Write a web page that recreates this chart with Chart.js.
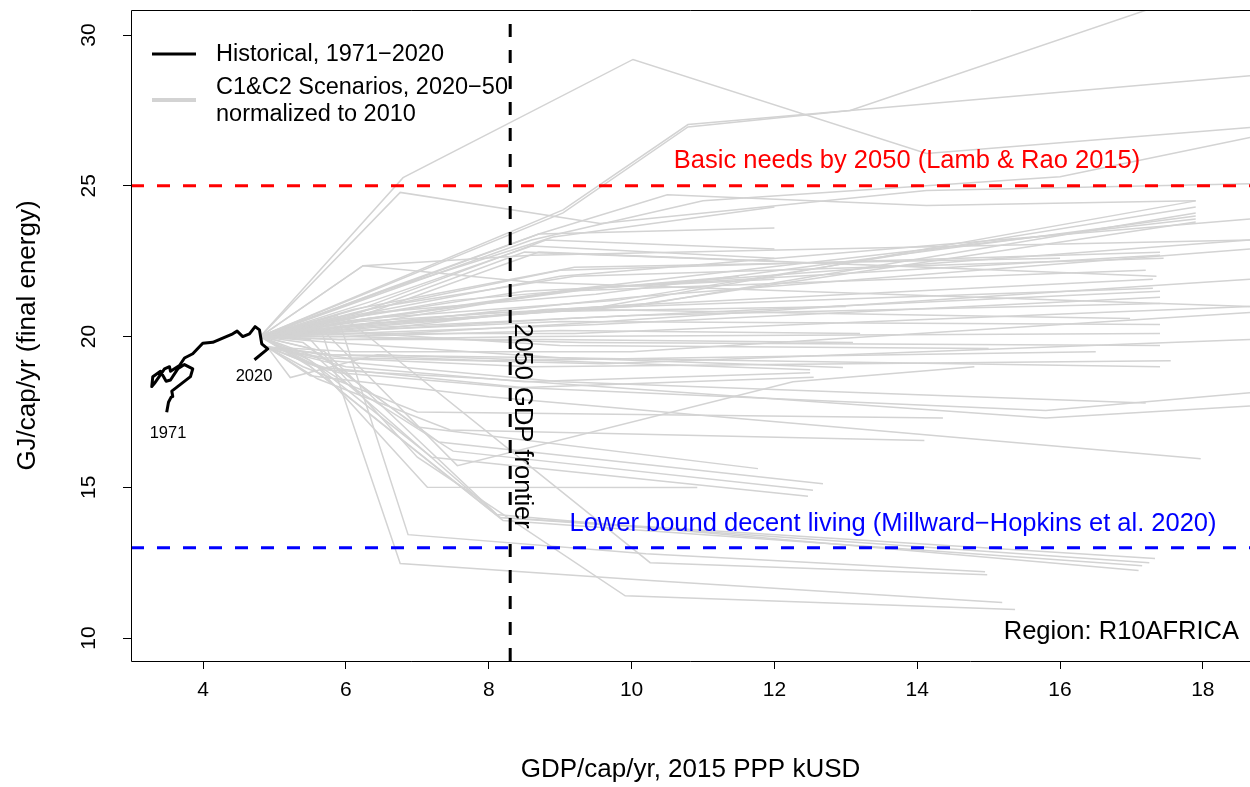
<!DOCTYPE html>
<html>
<head>
<meta charset="utf-8">
<script src="https://cdn.jsdelivr.net/npm/chart.js@4.4.1/dist/chart.umd.min.js"></script>
<style>
html,body{margin:0;padding:0;background:#fff;}
#wrap{width:1250px;height:787px;}
</style>
</head>
<body>
<div id="wrap"><canvas id="c" width="1250" height="787"></canvas></div>
<script>
// ---------------- DATA ----------------
const xTicks = [4, 6, 8, 10, 12, 14, 16, 18];
const yTicks = [10, 15, 20, 25, 30];
const xLimits = [2.99, 18.66];
const yLimits = [9.24, 30.83];

const basicNeeds = 25;      // GJ/cap/yr
const decentLiving = 13;    // GJ/cap/yr
const gdpFrontier = 8.3;    // kUSD

// Historical 1971-2020
const histGDP = [3.49,3.515,3.552,3.575,3.561,3.692,3.823,3.855,3.739,3.645,3.543,3.482,3.403,3.295,3.281,3.319,3.459,3.529,3.543,3.669,3.739,3.855,3.995,4.135,4.415,4.476,4.555,4.649,4.728,4.789,4.821,4.905,4.719];
const histEnergy = [17.49,17.82,17.99,18.01,18.19,18.43,18.67,18.93,19.07,18.93,18.56,18.52,18.85,18.67,18.34,18.45,18.93,19.00,18.85,19.04,19.29,19.43,19.78,19.81,20.09,20.18,20.00,20.09,20.33,20.22,19.76,19.59,19.23];

// Scenarios 2020-2050 (normalized to 2010)
const scenarioGDP = [
 [4.8,6.8,10.02,14.13,18.66],
 [4.8,6.76,9.56,14.13,18.66],
 [4.8,9.04,10.79,13.06,17.3],
 [4.8,9.04,10.79,13.06,18.66],
 [4.8,8.6,11.0,16.0,18.66],
 [4.8,8.7,10.5,14.13,17.9],
 [4.8,6.5,8.9,12.0],
 [4.8,6.6,8.7,12.0],
 [4.8,6.3,8.8,12.0],
 [4.8,6.4,8.6,12.0],
 [4.8,6.2,8.5,12.0],
 [4.8,6.0,9.0,13.2],
 [4.8,5.9,8.8,13.1],
 [4.8,5.8,9.0,12.96],
 [4.9,6.0,8.5,12.5],
 [4.9,5.9,8.4,12.55],
 [4.8,6.2,9.6,17.9],
 [4.8,6.3,9.8,17.9],
 [4.8,6.1,10.0,17.9],
 [4.8,6.4,9.5,17.9],
 [4.8,6.2,10.2,17.9],
 [4.8,6.0,9.3,17.9],
 [4.8,6.3,9.0,17.4],
 [4.8,6.5,9.2,17.45],
 [4.8,6.4,9.4,17.4],
 [4.8,6.2,9.0,17.2],
 [4.8,6.0,9.6,17.3],
 [4.8,6.3,8.8,17.3],
 [4.8,6.1,8.7,17.35],
 [4.8,6.2,9.1,17.4],
 [4.8,6.0,9.5,17.4],
 [4.8,6.4,10.0,17.4],
 [4.8,6.24,8.6,18.66],
 [4.8,6.24,8.6,18.66],
 [4.8,6.1,9.0,18.66],
 [4.8,6.0,9.5,18.66],
 [4.8,6.3,10.0,18.66],
 [4.8,6.0,9.0,18.66],
 [4.8,5.9,9.2,18.66],
 [4.9,6.1,10.0,18.66],
 [4.9,6.0,9.6,18.66],
 [4.9,5.6,8.5,15.8,18.66],
 [4.9,5.7,8.0,15.8,18.66],
 [4.9,5.5,8.0,17.97],
 [4.9,5.8,9.0,17.2],
 [4.8,5.4,7.0,11.77],
 [4.8,5.5,7.3,12.68],
 [4.8,5.3,7.5,12.54],
 [4.8,5.5,7.2,12.47],
 [4.8,5.6,7.14,10.92],
 [4.8,5.7,8.16,17.33],
 [4.8,5.6,8.16,17.25],
 [4.8,5.5,8.2,17.15],
 [4.8,5.4,8.1,17.1],
 [4.8,6.0,10.26,14.98],
 [4.8,5.88,6.87,10.2,14.95],
 [4.8,5.64,6.76,10.26,15.19],
 [4.8,5.5,7.0,9.91,15.37],
 [4.8,5.8,8.0,13.0],
 [4.8,6.0,8.5,12.0],
 [4.8,6.3,9.0,15.0],
 [4.8,5.5,7.5,11.5],
 [4.9,5.8,8.0,16.5],
 [4.8,6.1,9.2,16.0],
 [4.9,5.22,6.44,12.5],
 [4.8,5.64,7.56,12.26,14.8],
 [4.9,5.6,7.46,14.1],
 [4.9,5.4,7.0,14.36],
 [4.8,6.1,9.0,17.4],
 [4.8,5.9,8.7,17.4],
 [4.8,6.0,9.3,17.4],
 [4.9,5.8,8.9,17.4],
 [4.9,5.7,8.6,17.55],
 [4.8,6.2,9.4,16.98]
];
const scenarioEnergy = [
 [20,25.27,29.19,26.07,26.93],
 [20,24.78,23.75,24.84,25.07],
 [20,24.2,27.03,27.5,30.9],
 [20,24.1,26.95,27.5,28.65],
 [20,23.2,24.5,25.3,26.6],
 [20,23.4,24.7,24.35,24.5],
 [20,21.5,23.3,24.3],
 [20,21.6,23.4,23.6],
 [20,21.0,23.2,22.9],
 [20,21.2,23.0,22.6],
 [20,20.8,22.8,22.5],
 [20,20.0,20.2,20.1],
 [20,19.9,19.9,19.8],
 [20,19.8,19.3,18.97],
 [19.65,19.0,18.5,18.8],
 [19.65,18.8,18.3,18.65],
 [20,20.5,21.0,24.5],
 [20,20.6,21.2,24.3],
 [20,20.4,21.0,24.1],
 [20,20.8,21.4,24.0],
 [20,20.3,21.1,23.8],
 [20,20.5,21.6,23.9],
 [20,20.9,22.2,22.8],
 [20,21.0,22.0,22.6],
 [20,20.6,21.6,22.7],
 [20,20.4,21.5,22.2],
 [20,20.3,21.0,21.9],
 [20,20.2,20.9,21.6],
 [20,20.6,22.8,22.0],
 [20,20.2,20.6,21.5],
 [20,20.1,20.4,21.3],
 [20,20.3,20.7,21.1],
 [20,22.35,22.7,23.2],
 [20,22.35,21.8,21.0],
 [20,20.7,22.0,23.9],
 [20,20.5,21.6,23.2],
 [20,20.4,21.3,22.9],
 [20,20.0,20.4,21.9],
 [20,20.1,20.1,21.0],
 [19.65,19.5,19.5,20.8],
 [19.65,19.3,19.1,19.9],
 [19.65,19.0,18.3,17.55,18.14],
 [19.65,18.9,18.6,17.3,17.7],
 [19.65,18.7,18.0,15.95],
 [19.65,19.2,18.5,17.8],
 [20,19.8,17.0,15.62],
 [20,19.6,16.5,15.12],
 [20,19.5,16.2,14.9],
 [20,19.2,16.0,14.7],
 [20,19.0,15.0,14.99],
 [20,19.5,14.0,12.64],
 [20,19.3,14.0,12.5],
 [20,19.0,13.9,12.4],
 [20,19.2,14.1,12.24],
 [20,20.6,12.5,12.1],
 [20,20.7,13.43,12.8,12.2],
 [20,20.3,12.47,11.91,11.18],
 [20,19.9,16.0,11.4,10.95],
 [20,20.3,20.8,21.0],
 [20,20.6,21.5,21.9],
 [20,20.1,19.7,19.6],
 [20,20.4,21.2,22.0],
 [19.65,19.4,19.2,19.5],
 [20,20.9,22.3,22.6],
 [19.65,18.64,19.4,18.9],
 [20,20.3,15.72,18.5,19.0],
 [19.65,18.6,16.9,16.55],
 [19.65,19.0,17.5,17.3],
 [20,20.2,20.5,20.4],
 [20,19.9,20.0,20.1],
 [20,20.0,19.8,19.7],
 [19.65,19.4,19.3,19.0],
 [19.65,19.3,19.0,19.2],
 [20,20.4,20.9,20.6]
];

// ---------------- CHART ----------------
const FONT = '"Liberation Sans", Arial, Helvetica, sans-serif';
const GRAY = '#d3d3d3';

const toPts = (xs, ys) => xs.map((x, i) => ({x: x, y: ys[i]}));

const datasets = [];
datasets.push({
  label: 'Historical, 1971\u22122020',
  data: toPts(histGDP, histEnergy),
  borderColor: '#000', borderWidth: 3, pointRadius: 0, showLine: true,
  borderJoinStyle: 'round', borderCapStyle: 'butt', order: 1
});
datasets.push({
  data: [{x: xLimits[0], y: basicNeeds}, {x: xLimits[1], y: basicNeeds}],
  borderColor: '#ff0000', borderWidth: 3, borderDash: [13, 13], pointRadius: 0, showLine: true, order: 2
});
datasets.push({
  data: [{x: xLimits[0], y: decentLiving}, {x: xLimits[1], y: decentLiving}],
  borderColor: '#0000ff', borderWidth: 3, borderDash: [13, 13], pointRadius: 0, showLine: true, order: 2
});
datasets.push({
  data: [{x: gdpFrontier, y: yLimits[0]}, {x: gdpFrontier, y: yLimits[1]}],
  borderColor: '#000', borderWidth: 3, borderDash: [13, 13], pointRadius: 0, showLine: true, order: 2
});
scenarioGDP.forEach((xs, i) => {
  datasets.push({
    data: toPts(xs, scenarioEnergy[i]),
    borderColor: GRAY, borderWidth: 1.5, pointRadius: 0, showLine: true, order: 3
  });
});

const decor = {
  id: 'decor',
  afterDraw(chart) {
    const ctx = chart.ctx;
    const a = chart.chartArea;
    const xs = chart.scales.x, ys = chart.scales.y;
    ctx.save();
    // box (left, top, bottom; right side runs off the picture)
    ctx.strokeStyle = '#000'; ctx.lineWidth = 1;
    ctx.beginPath();
    ctx.moveTo(a.right, a.top + 0.5); ctx.lineTo(a.left + 0.5, a.top + 0.5);
    ctx.lineTo(a.left + 0.5, a.bottom + 0.5); ctx.lineTo(a.right, a.bottom + 0.5);
    ctx.stroke();
    // y tick labels (rotated)
    ctx.fillStyle = '#000';
    ctx.font = '21px ' + FONT;
    ctx.textAlign = 'center'; ctx.textBaseline = 'middle';
    yTicks.forEach(v => {
      const py = ys.getPixelForValue(v);
      ctx.save(); ctx.translate(89, py); ctx.rotate(-Math.PI / 2);
      ctx.fillText(String(v), 0, 0); ctx.restore();
    });
    // legend
    ctx.lineWidth = 3; ctx.strokeStyle = '#000';
    ctx.beginPath(); ctx.moveTo(152, 54); ctx.lineTo(196, 54); ctx.stroke();
    ctx.lineWidth = 4; ctx.strokeStyle = GRAY;
    ctx.beginPath(); ctx.moveTo(152, 100); ctx.lineTo(196, 100); ctx.stroke();
    ctx.font = '23.5px ' + FONT; ctx.textAlign = 'left'; ctx.fillStyle = '#000';
    ctx.fillText('Historical, 1971\u22122020', 216, 55);
    ctx.fillText('C1&C2 Scenarios, 2020\u221250', 216, 88);
    ctx.fillText('normalized to 2010', 216, 115);
    // reference labels
    ctx.font = '25.5px ' + FONT;
    ctx.textAlign = 'center';
    ctx.fillStyle = '#ff0000';
    ctx.fillText('Basic needs by 2050 (Lamb & Rao 2015)', 907, ys.getPixelForValue(basicNeeds) - 25);
    ctx.fillStyle = '#0000ff';
    ctx.fillText('Lower bound decent living (Millward\u2212Hopkins et al. 2020)', 893, ys.getPixelForValue(decentLiving) - 24);
    ctx.fillStyle = '#000';
    ctx.save();
    ctx.translate(xs.getPixelForValue(gdpFrontier) + 12, 426);
    ctx.rotate(Math.PI / 2);
    ctx.fillText('2050 GDP frontier', 0, 0);
    ctx.restore();
    ctx.textAlign = 'right';
    ctx.fillText('Region: R10AFRICA', 1239, 632);
    ctx.font = '16.5px ' + FONT; ctx.textAlign = 'center';
    ctx.fillText('1971', 168, 433);
    ctx.fillText('2020', 254, 376);
    ctx.restore();
  }
};

new Chart(document.getElementById('c'), {
  type: 'scatter',
  data: {datasets: datasets},
  options: {
    responsive: false, animation: false, devicePixelRatio: 1,
    layout: {padding: {top: 10, right: 0, left: 0, bottom: 0}},
    plugins: {legend: {display: false}, tooltip: {enabled: false}},
    elements: {line: {tension: 0}},
    scales: {
      x: {
        type: 'linear', min: xLimits[0], max: xLimits[1],
        afterBuildTicks: s => { s.ticks = xTicks.map(v => ({value: v})); },
        afterFit: s => { s.height = 126; },
        grid: {display: true, drawOnChartArea: false, drawTicks: true, tickLength: 8, color: '#000', tickWidth: 1},
        border: {display: false},
        ticks: {color: '#000', font: {family: FONT, size: 21}, padding: 9, maxRotation: 0, minRotation: 0},
        title: {display: true, text: 'GDP/cap/yr, 2015 PPP kUSD', color: '#000', font: {family: FONT, size: 26}, padding: {top: 0, bottom: 2}}
      },
      y: {
        type: 'linear', min: yLimits[0], max: yLimits[1],
        afterBuildTicks: s => { s.ticks = yTicks.map(v => ({value: v})); },
        afterFit: s => { s.width = 131; },
        grid: {display: true, drawOnChartArea: false, drawTicks: true, tickLength: 8, color: '#000', tickWidth: 1},
        border: {display: false},
        ticks: {display: false},
        title: {display: true, text: 'GJ/cap/yr (final energy)', color: '#000', font: {family: FONT, size: 26}, padding: {top: 12, bottom: 0}}
      }
    }
  },
  plugins: [decor]
});
</script>
</body>
</html>
